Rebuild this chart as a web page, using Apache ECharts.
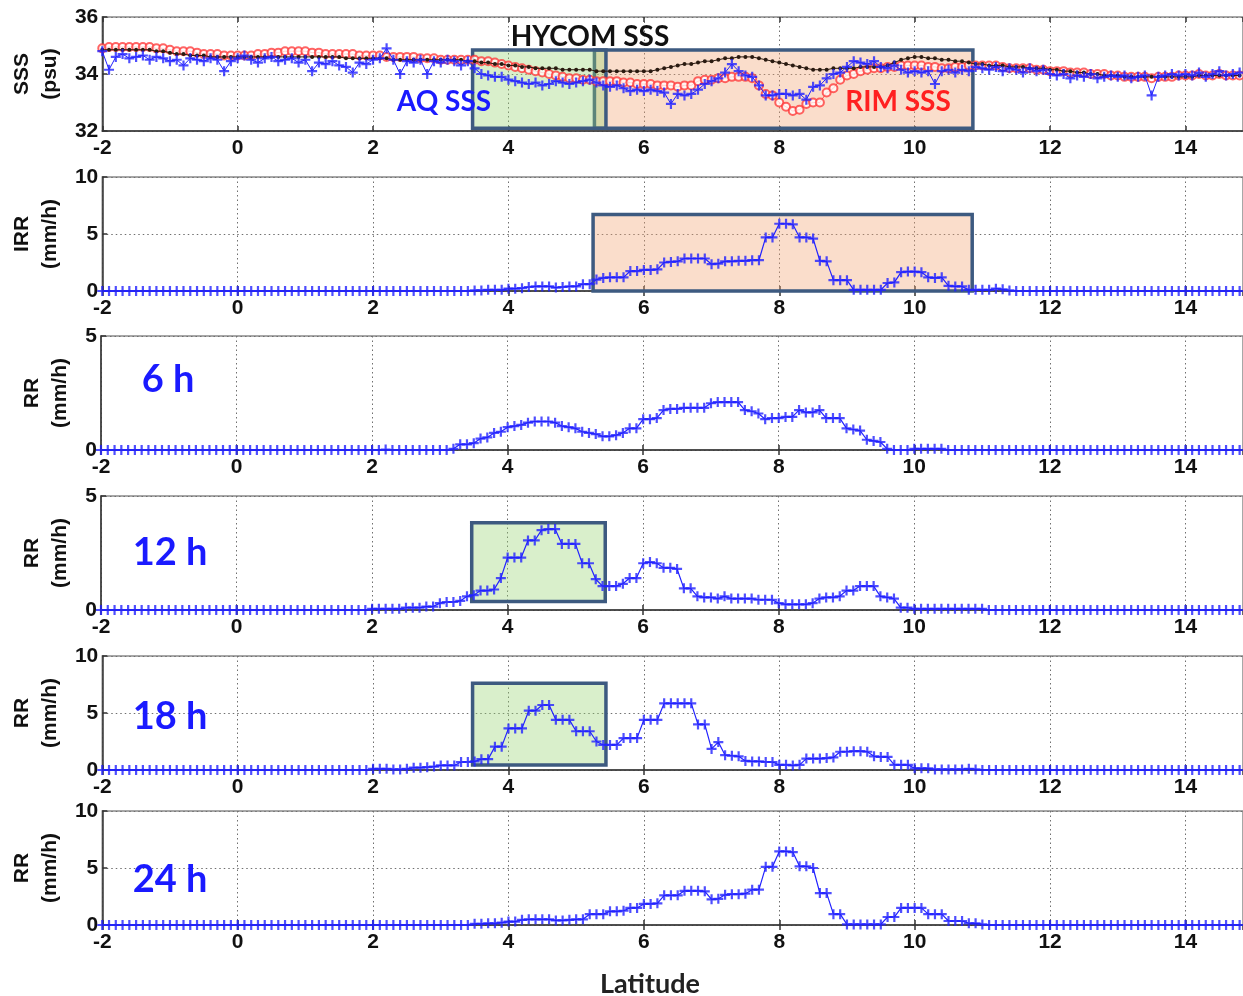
<!DOCTYPE html>
<html><head><meta charset="utf-8">
<script src="https://cdn.jsdelivr.net/npm/echarts@6/dist/echarts.min.js"></script>
<style>html,body{margin:0;padding:0;background:#fff}#c{width:1243px;height:996px}</style>
</head><body><div id="c"></div>
<script>
// ---------- DATA ----------
const LAT = [
-2,-1.9,-1.8,-1.7,-1.6,-1.5,-1.4,-1.3,-1.2,-1.1,
-1,-0.9,-0.8,-0.7,-0.6,-0.5,-0.4,-0.3,-0.2,-0.1,
0,0.1,0.2,0.3,0.4,0.5,0.6,0.7,0.8,0.9,
1,1.1,1.2,1.3,1.4,1.5,1.6,1.7,1.8,1.9,
2,2.1,2.2,2.3,2.4,2.5,2.6,2.7,2.8,2.9,
3,3.1,3.2,3.3,3.4,3.5,3.6,3.7,3.8,3.9,
4,4.1,4.2,4.3,4.4,4.5,4.6,4.7,4.8,4.9,
5,5.1,5.2,5.3,5.4,5.5,5.6,5.7,5.8,5.9,
6,6.1,6.2,6.3,6.4,6.5,6.6,6.7,6.8,6.9,
7,7.1,7.2,7.3,7.4,7.5,7.6,7.7,7.8,7.9,
8,8.1,8.2,8.3,8.4,8.5,8.6,8.7,8.8,8.9,
9,9.1,9.2,9.3,9.4,9.5,9.6,9.7,9.8,9.9,
10,10.1,10.2,10.3,10.4,10.5,10.6,10.7,10.8,10.9,
11,11.1,11.2,11.3,11.4,11.5,11.6,11.7,11.8,11.9,
12,12.1,12.2,12.3,12.4,12.5,12.6,12.7,12.8,12.9,
13,13.1,13.2,13.3,13.4,13.5,13.6,13.7,13.8,13.9,
14,14.1,14.2,14.3,14.4,14.5,14.6,14.7,14.8];

const X_TICKS = [-2,0,2,4,6,8,10,12,14];

// SSS (psu)
const SSS_RIM = [
34.9,34.95,34.95,34.95,34.95,34.95,34.95,34.95,34.9,34.9,
34.85,34.8,34.8,34.8,34.75,34.7,34.7,34.7,34.65,34.65,
34.65,34.65,34.65,34.7,34.7,34.75,34.75,34.8,34.8,34.8,
34.8,34.75,34.75,34.7,34.7,34.7,34.7,34.7,34.65,34.65,
34.65,34.65,34.6,34.6,34.6,34.6,34.6,34.55,34.55,34.55,
34.5,34.5,34.5,34.5,34.5,34.5,34.45,34.45,34.4,34.35,
34.3,34.25,34.2,34.15,34.1,34.05,34.0,33.95,33.9,33.85,
33.85,33.8,33.8,33.75,33.75,33.75,33.75,33.7,33.7,33.65,
33.65,33.65,33.6,33.6,33.6,33.55,33.6,33.6,33.75,33.8,
33.8,33.85,33.85,33.9,33.9,33.9,33.85,33.6,33.3,33.25,
33.0,32.85,32.7,32.75,32.95,33.0,33.0,33.35,33.5,33.8,
33.95,34.0,34.1,34.15,34.2,34.2,34.25,34.25,34.3,34.3,
34.3,34.3,34.25,34.25,34.2,34.2,34.25,34.25,34.3,34.3,
34.3,34.3,34.3,34.25,34.2,34.2,34.2,34.2,34.15,34.15,
34.1,34.1,34.1,34.05,34.05,34.05,34.0,34.0,34.0,33.95,
33.95,33.9,33.9,33.9,33.9,33.85,33.9,33.9,33.9,33.95,
33.95,33.95,34.0,33.95,33.95,34.0,33.95,33.95,33.95];

const SSS_HYCOM = [
34.85,34.85,34.85,34.85,34.85,34.85,34.85,34.85,34.8,34.8,
34.75,34.7,34.7,34.65,34.65,34.65,34.6,34.6,34.6,34.6,
34.6,34.6,34.6,34.6,34.6,34.6,34.6,34.6,34.6,34.6,
34.6,34.6,34.6,34.6,34.6,34.6,34.55,34.55,34.55,34.55,
34.55,34.55,34.55,34.5,34.5,34.5,34.5,34.5,34.5,34.5,
34.5,34.5,34.5,34.5,34.45,34.45,34.4,34.4,34.35,34.35,
34.3,34.3,34.25,34.25,34.2,34.2,34.2,34.2,34.15,34.15,
34.15,34.15,34.15,34.1,34.1,34.1,34.1,34.1,34.1,34.1,
34.1,34.1,34.15,34.2,34.25,34.3,34.35,34.35,34.4,34.45,
34.45,34.5,34.55,34.55,34.6,34.6,34.6,34.55,34.5,34.45,
34.4,34.35,34.3,34.25,34.2,34.15,34.15,34.15,34.2,34.2,
34.2,34.2,34.25,34.25,34.25,34.25,34.3,34.4,34.5,34.55,
34.6,34.6,34.55,34.55,34.5,34.5,34.45,34.45,34.4,34.35,
34.35,34.3,34.3,34.3,34.25,34.25,34.25,34.2,34.2,34.2,
34.15,34.15,34.1,34.1,34.05,34.05,34.0,34.0,33.95,33.95,
33.95,33.9,33.9,33.9,33.9,33.9,33.9,33.9,33.9,33.9,
33.9,33.9,33.95,33.95,33.95,33.95,33.95,33.95,33.95];

const SSS_AQ = [
34.8,34.15,34.6,34.7,34.55,34.6,34.65,34.5,34.6,34.55,
34.45,34.5,34.3,34.55,34.5,34.45,34.55,34.5,34.1,34.45,
34.55,34.65,34.5,34.4,34.55,34.6,34.45,34.5,34.55,34.4,
34.5,34.1,34.4,34.35,34.45,34.3,34.25,34.05,34.4,34.35,
34.5,34.55,34.9,34.5,34.0,34.45,34.4,34.5,34.0,34.45,
34.4,34.5,34.45,34.3,34.45,34.2,34.0,33.95,33.9,33.9,
33.8,33.75,33.7,33.65,33.7,33.6,33.65,33.75,33.7,33.65,
33.7,33.75,33.8,33.7,33.6,33.55,33.6,33.5,33.4,33.45,
33.4,33.45,33.4,33.35,32.95,33.3,33.25,33.3,33.45,33.65,
33.75,33.85,34.05,34.35,34.1,33.95,33.9,33.6,33.25,33.25,
33.3,33.3,33.25,33.3,33.1,33.55,33.6,33.85,34.0,34.05,
34.25,34.45,34.4,34.35,34.45,34.25,34.2,34.3,34.15,34.05,
34.1,34.05,34.1,33.65,34.1,34.15,34.05,34.15,34.1,34.25,
34.2,34.15,34.25,34.1,34.2,34.15,34.05,34.2,34.1,34.15,
34.0,33.95,34.0,33.85,33.95,33.9,34.0,33.85,33.9,33.95,
33.9,33.95,33.85,33.9,33.95,33.25,33.9,33.95,34.0,33.95,
34.0,33.95,34.05,33.9,34.0,34.1,33.95,34.0,34.05];

// IRR (mm/h)
const IRR = [
0,0,0,0,0,0,0,0,0,0,
0,0,0,0,0,0,0,0,0,0,
0,0,0,0,0,0,0,0,0,0,
0,0,0,0,0,0,0,0,0,0,
0,0,0,0,0,0,0,0,0,0,
0,0,0,0,0,0.05,0.05,0.1,0.1,0.1,
0.2,0.2,0.25,0.35,0.4,0.4,0.4,0.3,0.35,0.4,
0.4,0.6,0.6,1.0,1.15,1.2,1.2,1.2,1.75,1.75,
1.85,1.85,1.9,2.5,2.55,2.6,2.85,2.85,2.85,2.85,
2.35,2.4,2.6,2.6,2.65,2.65,2.7,2.7,4.7,4.7,
5.9,5.9,5.85,4.7,4.7,4.6,2.65,2.6,0.95,0.95,
0.95,0.1,0.1,0.1,0.1,0.1,0.7,0.75,1.65,1.7,
1.7,1.65,1.2,1.15,1.2,0.45,0.4,0.4,0.1,0.1,
0.1,0.1,0.2,0.15,0.05,0,0,0,0,0,
0,0,0,0,0,0,0,0,0,0,
0,0,0,0,0,0,0,0,0,0,
0,0,0,0,0,0,0,0,0];

// RR (mm/h) at 6, 12, 18, 24 h
const RR_6H = [
0,0,0,0,0,0,0,0,0,0,
0,0,0,0,0,0,0,0,0,0,
0,0,0,0,0,0,0,0,0,0,
0,0,0,0,0,0,0,0,0,0,
0,0,0.02,0,0,0,0,0,0,0,
0,0,0.05,0.25,0.25,0.3,0.5,0.55,0.75,0.8,
1.0,1.05,1.1,1.2,1.25,1.25,1.25,1.2,1.05,1.0,
0.95,0.8,0.75,0.7,0.6,0.6,0.65,0.75,0.95,0.95,
1.35,1.35,1.4,1.75,1.8,1.8,1.85,1.85,1.85,1.85,
2.05,2.1,2.1,2.1,2.1,1.75,1.7,1.6,1.35,1.4,
1.4,1.45,1.45,1.75,1.65,1.65,1.75,1.4,1.4,1.4,
0.95,0.9,0.85,0.45,0.4,0.35,0.05,0,0,0,
0.05,0.05,0.05,0.05,0.05,0,0,0,0,0,
0,0,0,0,0,0,0,0,0,0,
0,0,0,0,0,0,0,0,0,0,
0,0,0,0,0,0,0,0,0,0,
0,0,0,0,0,0,0,0,0];

const RR_12H = [
0,0,0,0,0,0,0,0,0,0,
0,0,0,0,0,0,0,0,0,0,
0,0,0,0,0,0,0,0,0,0,
0,0,0,0,0,0,0,0,0,0,
0.05,0.05,0.05,0.05,0.05,0.1,0.1,0.1,0.15,0.15,
0.3,0.35,0.35,0.4,0.6,0.65,0.85,0.85,0.9,1.4,
2.3,2.3,2.3,3.05,3.05,3.5,3.55,3.55,2.9,2.9,
2.9,2.05,2.05,1.35,1.05,1.05,1.05,1.15,1.4,1.4,
2.05,2.1,2.05,1.85,1.85,1.8,0.95,0.95,0.6,0.55,
0.55,0.5,0.6,0.5,0.5,0.5,0.5,0.45,0.45,0.45,
0.3,0.25,0.25,0.25,0.25,0.3,0.5,0.55,0.55,0.6,
0.85,0.85,1.05,1.05,1.05,0.6,0.55,0.5,0.1,0.1,
0.05,0.05,0.05,0.05,0.05,0.05,0.05,0.05,0.05,0.05,
0.05,0,0,0,0,0,0,0,0,0,
0,0,0,0,0,0,0,0,0,0,
0,0,0,0,0,0,0,0,0,0,
0,0,0,0,0,0,0,0,0];

const RR_18H = [
0,0,0,0,0,0,0,0,0,0,
0,0,0,0,0,0,0,0,0,0,
0,0,0,0,0,0,0,0,0,0,
0,0,0,0,0,0,0,0,0,0,
0.1,0.1,0.1,0.05,0.05,0.1,0.2,0.2,0.25,0.3,
0.4,0.4,0.4,0.7,0.7,0.75,0.95,0.95,2.05,2.05,
3.65,3.65,3.65,5.2,5.2,5.7,5.7,4.4,4.4,4.4,
3.4,3.4,3.4,2.5,2.2,2.2,2.2,2.8,2.8,2.8,
4.4,4.4,4.4,5.85,5.85,5.85,5.85,5.85,4.0,4.0,
1.85,2.45,1.3,1.25,1.2,0.8,0.75,0.75,0.7,0.7,
0.45,0.45,0.4,0.45,1.0,1.0,1.0,1.05,1.1,1.6,
1.6,1.65,1.65,1.6,1.2,1.15,1.15,0.45,0.45,0.45,
0.15,0.15,0.15,0.05,0.05,0.05,0.05,0.05,0.1,0.05,
0,0,0,0,0,0,0,0,0,0,
0,0,0,0,0,0,0,0,0,0,
0,0,0,0,0,0,0,0,0,0,
0,0,0,0,0,0,0,0,0];

const RR_24H = [
0,0,0,0,0,0,0,0,0,0,
0,0,0,0,0,0,0,0,0,0,
0,0,0,0,0,0,0,0,0,0,
0,0,0,0,0,0,0,0,0,0,
0,0,0,0,0,0,0,0,0,0,
0,0,0,0,0,0.1,0.1,0.15,0.15,0.2,
0.3,0.3,0.45,0.5,0.5,0.5,0.5,0.4,0.4,0.45,
0.5,0.5,0.95,0.95,0.95,1.2,1.2,1.25,1.5,1.5,
1.85,1.85,1.9,2.6,2.6,2.6,3.0,3.0,3.0,2.95,
2.25,2.3,2.65,2.7,2.7,2.75,3.1,3.1,5.1,5.1,
6.45,6.45,6.4,5.15,5.15,5.0,2.8,2.8,0.95,0.95,
0.05,0.05,0.05,0.05,0.05,0.05,0.7,0.7,1.5,1.5,
1.5,1.5,0.95,0.95,0.95,0.35,0.35,0.35,0.15,0.15,
0.05,0,0,0,0,0,0,0,0,0,
0,0,0,0,0,0,0,0,0,0,
0,0,0,0,0,0,0,0,0,0,
0,0,0,0,0,0,0,0,0];

// highlighted boxes (latitude / value ranges)
const BOXES_SSS_ORANGE = [5.27, 32.1, 10.86, 34.84];
const BOXES_SSS_GREEN  = [3.47, 32.1, 5.44, 34.84];
const BOXES_IRR_ORANGE = [5.25, -0.35, 10.85, 6.7];
const BOXES_12H_GREEN  = [3.47, 0.37, 5.44, 3.83];
const BOXES_18H_GREEN  = [3.47, 0.44, 5.44, 7.6];

// ---------- CHART ----------
const TOPS = [17, 177, 336, 496, 656, 811];
const H = 114;
const Y_CFG = [
  {min:32,max:36,interval:2,name:'SSS\n(psu)',gap:31},
  {min:0,max:10,interval:5,name:'IRR\n(mm/h)',gap:8},
  {min:0,max:5,interval:5,name:'RR\n(mm/h)',gap:22},
  {min:0,max:5,interval:5,name:'RR\n(mm/h)',gap:22},
  {min:0,max:10,interval:5,name:'RR\n(mm/h)',gap:35},
  {min:0,max:10,interval:5,name:'RR\n(mm/h)',gap:35}
];
const XMIN = -2, XMAX = 14.85;
const TICK_FONT = "'Liberation Sans Narrow','Arial Narrow','Liberation Sans',Arial,sans-serif";
const NAME_FONT = "'Liberation Sans',Arial,sans-serif";
const ANN_FONT = "Lato,'Open Sans','Noto Sans',sans-serif";
const dotted = {color:'#6f6f6f', width:1, type:[1.5,3]};
const plusPath = 'path://M3.9,0H6.1V3.9H10V6.1H6.1V10H3.9V6.1H0V3.9H3.9Z';

function pts(vals){ return vals.map((v,i)=>[LAT[i], v]); }

const grid = TOPS.map(t=>({left:101,right:0,top:t,height:H,show:true,borderColor:'#8a8a8a',borderWidth:1.5}));
const xAxis = [];
TOPS.forEach((t,i)=>{
  xAxis.push({gridIndex:i,type:'value',min:XMIN,max:XMAX,interval:2,
    axisLine:{show:true,onZero:false,lineStyle:{color:'#333',width:1.5}},
    axisTick:{show:true,inside:true,length:5,lineStyle:{color:'#333',width:1.5}},
    axisLabel:{margin:7,fontSize:21,fontWeight:'bold',fontFamily:TICK_FONT,color:'#111',showMaxLabel:false,
      formatter:v=>X_TICKS.includes(Math.round(v*1000)/1000)?String(Math.round(v)):''},
    splitLine:{show:true,lineStyle:dotted}});
});
TOPS.forEach((t,i)=>{
  xAxis.push({gridIndex:i,type:'value',position:'top',min:XMIN,max:XMAX,interval:2,
    axisLine:{show:false},axisTick:{show:true,inside:true,length:5,lineStyle:{color:'#333',width:1.5}},
    axisLabel:{show:false},splitLine:{show:false}});
});
const yAxis = Y_CFG.map((c,i)=>({gridIndex:i,type:'value',min:c.min,max:c.max,interval:c.interval,
  axisLine:{show:true,onZero:false,lineStyle:{color:'#333',width:1.5}},
  axisTick:{show:true,inside:true,length:5,lineStyle:{color:'#333',width:1.5}},
  axisLabel:{margin:4,fontSize:21,fontWeight:'bold',fontFamily:TICK_FONT,color:'#111'},
  splitLine:{show:true,lineStyle:dotted},
  name:c.name,nameLocation:'middle',nameRotate:90,nameGap:c.gap,
  nameTextStyle:{fontSize:21,fontWeight:'bold',fontFamily:NAME_FONT,color:'#111',lineHeight:28}}));

const BLUE = '#2222ff';
function rainSeries(vals, i){
  return {type:'line',xAxisIndex:i,yAxisIndex:i,data:pts(vals),clip:false,
    symbol:plusPath,symbolSize:10,showAllSymbol:true,
    itemStyle:{color:BLUE,opacity:0.8},lineStyle:{color:BLUE,width:1.2},z:3};
}
const ORANGE_FILL = 'rgba(240,160,110,0.36)';
const GREEN_FILL = 'rgba(150,210,110,0.36)';
const BOX_BORDER = '#3d5a80';
function area(b, fill){
  return [{coord:[b[0],b[1]],itemStyle:{color:fill,borderColor:BOX_BORDER,borderWidth:3.5}},{coord:[b[2],b[3]]}];
}
function overlay(i, areas){
  return {type:'line',xAxisIndex:i,yAxisIndex:i,data:[],clip:false,z:6,silent:true,
    markArea:{silent:true,data:areas}};
}

const series = [
  {type:'line',xAxisIndex:0,yAxisIndex:0,data:pts(SSS_RIM),clip:false,symbol:'emptyCircle',symbolSize:8,
    showAllSymbol:true,itemStyle:{color:'#ff3030',borderWidth:1.2,opacity:0.75},lineStyle:{color:'#ff3030',width:1,opacity:0.8},z:2},
  {type:'line',xAxisIndex:0,yAxisIndex:0,data:pts(SSS_HYCOM),clip:false,symbol:'circle',symbolSize:4,
    showAllSymbol:true,itemStyle:{color:'#2a1a10'},lineStyle:{color:'#2a1a10',width:1},z:3},
  {type:'line',xAxisIndex:0,yAxisIndex:0,data:pts(SSS_AQ),clip:false,symbol:plusPath,symbolSize:10,
    showAllSymbol:true,itemStyle:{color:BLUE,opacity:0.8},lineStyle:{color:BLUE,width:1},z:4},
  rainSeries(IRR,1),
  rainSeries(RR_6H,2),
  rainSeries(RR_12H,3),
  rainSeries(RR_18H,4),
  rainSeries(RR_24H,5),
  overlay(0,[area(BOXES_SSS_ORANGE,ORANGE_FILL),area(BOXES_SSS_GREEN,GREEN_FILL)]),
  overlay(1,[area(BOXES_IRR_ORANGE,ORANGE_FILL)]),
  overlay(3,[area(BOXES_12H_GREEN,GREEN_FILL)]),
  overlay(4,[area(BOXES_18H_GREEN,GREEN_FILL)])
];

function txt(text,x,y,size,color){
  return {type:'text',x:x,y:y,z:100,style:{text:text,fill:color,font:'bold '+size+'px '+ANN_FONT,
    align:'center',verticalAlign:'middle',textAlign:'center',textVerticalAlign:'middle'}};
}
const graphic = [
  txt('HYCOM SSS',590,37,28,'#111'),
  txt('AQ SSS',444,102,28,'#1a1aff'),
  txt('RIM SSS',898,102,28,'#ff2020'),
  txt('6 h',168,380,38,'#1a1aff'),
  txt('12 h',170,553,38,'#1a1aff'),
  txt('18 h',170,717,38,'#1a1aff'),
  txt('24 h',170,880,38,'#1a1aff'),
  txt('Latitude',650,984,27,'#222')
];

const chart = echarts.init(document.getElementById('c'),null,{renderer:'canvas'});
chart.setOption({animation:false,backgroundColor:'#fff',grid,xAxis,yAxis,series,graphic});
</script></body></html>
